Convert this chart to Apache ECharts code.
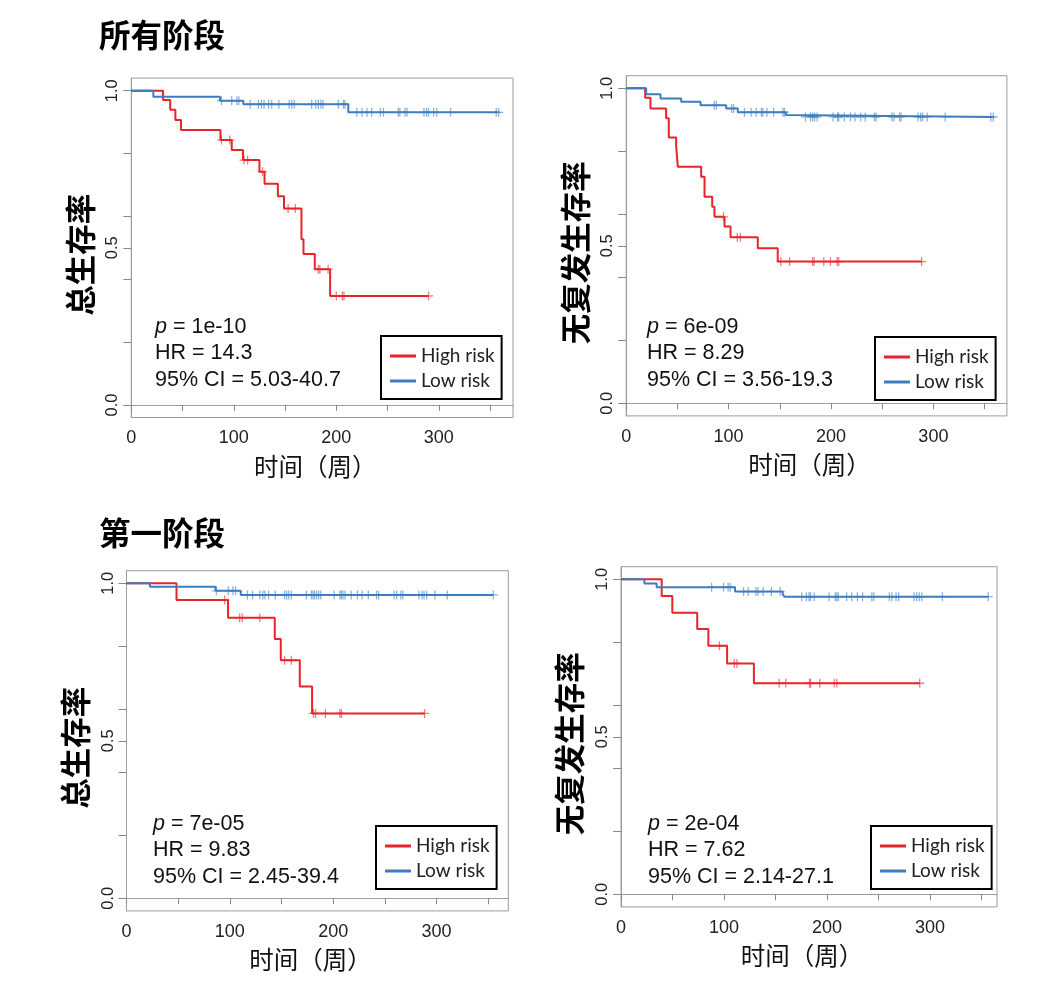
<!DOCTYPE html>
<html>
<head>
<meta charset="utf-8">
<script src="https://cdn.jsdelivr.net/npm/echarts@6/dist/echarts.min.js"></script>
<style>
html,body{margin:0;padding:0;background:#fff;}
#chart{width:1059px;height:999px;}
</style>
</head>
<body>
<div id="chart"></div>
<script>
// ---------- data ----------
const sectionTitles = ['所有阶段', '第一阶段'];
const yTitles = ['总生存率', '无复发生存率', '总生存率', '无复发生存率'];
const xTitle = '时间（周）';
const seriesNames = ['High risk', 'Low risk'];

const pValues = ['1e-10', '6e-09', '7e-05', '2e-04'];
const hrValues = ['14.3', '8.29', '9.83', '7.62'];
const ciValues = ['5.03-40.7', '3.56-19.3', '2.45-39.4', '2.14-27.1'];

const xTickValues = [0, 50, 100, 150, 200, 250, 300, 350];
const xLabelValues = [0, 100, 200, 300];
const yTickValues = [0, 0.2, 0.4, 0.5, 0.6, 0.8, 1.0];
const yLabelValues = [0, 0.5, 1.0];

// Panel 1: overall survival, all stages
const hi1Time = [31, 38, 43, 48.5, 87, 98, 109, 125, 130, 143, 149, 166, 168, 179, 194];
const hi1Surv = [0.970, 0.939, 0.907, 0.875, 0.843, 0.811, 0.779, 0.742, 0.704, 0.664, 0.625, 0.527, 0.480, 0.432, 0.347];
const hi1Cens = [88, 96, 110, 113.5, 128, 153, 160, 182.5, 184, 192, 200, 206, 207.5, 290];
const lo1Time = [21.5, 86.5, 109.3, 211.7];
const lo1Surv = [0.981, 0.968, 0.957, 0.931];
const lo1Cens = [88, 98, 103, 105, 116, 124, 127, 129.5, 134, 137, 144, 154, 156.5, 159, 176, 180, 182.5, 185, 187, 202, 207, 208.5, 220, 225, 230, 234.5, 243, 246, 260.5, 262, 267, 269, 285.5, 288, 290, 295, 298, 311.5, 356, 358.5];

// Panel 2: relapse-free survival, all stages
const hi2Time = [18.5, 23.7, 39, 41.6, 48.8, 50.4, 73.2, 76.5, 84, 86.2, 96, 101.9, 128.5, 148];
const hi2Surv = [0.970, 0.936, 0.905, 0.844, 0.815, 0.751, 0.719, 0.656, 0.624, 0.592, 0.561, 0.527, 0.492, 0.450];
const hi2Cens = [95, 108.5, 111.5, 151, 159.5, 182, 183.5, 193, 199.5, 206, 207.5, 288.5];
const lo2Time = [19.5, 33.5, 53.7, 72.6, 97.7, 109, 156, 157.5];
const lo2Surv = [0.981, 0.968, 0.957, 0.946, 0.936, 0.924, 0.915, 0.909];
const lo2Cens = [86, 88, 103, 105, 115.5, 122, 127, 132, 133.5, 137.5, 144, 153, 154.5, 175, 180, 182, 184, 186.5, 202, 206.5, 207.5, 213, 219, 223.5, 229, 233.5, 242.5, 244, 259.5, 261.5, 267, 268.5, 285, 287.5, 289.5, 294, 311.5, 356, 358.5];

// Panel 3: overall survival, stage I
const hi3Time = [48.4, 98.3, 143.5, 149.3, 167.7, 179.6];
const hi3Surv = [0.947, 0.891, 0.823, 0.756, 0.672, 0.587];
const hi3Cens = [95, 109.5, 112, 129, 153, 159.5, 181, 183, 192.5, 206.5, 208, 288.5];
const lo3Time = [22.6, 86.1, 110.6];
const lo3Surv = [0.989, 0.976, 0.963];
const lo3Cens = [87, 98.5, 103, 105.5, 117, 122, 129, 132, 134, 137.5, 144, 153, 155, 157, 159.5, 174, 179, 180.5, 182, 184, 186, 188, 201, 206.5, 208, 209.5, 211.5, 217.5, 223.5, 228, 234, 242, 244, 259, 261.5, 265.5, 267.5, 283, 286, 288, 290.5, 298.5, 310.5, 355];

// Panel 4: relapse-free survival, stage I
const hi4Time = [39.5, 49.8, 74, 84.8, 103, 129];
const hi4Surv = [0.947, 0.894, 0.842, 0.789, 0.733, 0.670];
const hi4Cens = [95.5, 110, 112.5, 153.5, 160, 183, 184, 193, 207, 209.5, 290];
const lo4Time = [22.7, 34.6, 110.7, 157, 158.6];
const lo4Surv = [0.987, 0.975, 0.961, 0.952, 0.945];
const lo4Cens = [88, 99.5, 104, 106, 119, 123.5, 131, 133, 138, 146, 154.5, 175.5, 180, 182.5, 184, 187.5, 202, 208, 209.5, 211, 219, 224, 229.5, 234.5, 243.5, 245.5, 260.5, 263, 267, 269.5, 284.5, 287, 289.5, 292, 312, 356.5];

// ---------- layout / style ----------
const RED = '#E8232A';
const BLUE = '#3B7DC0';
const panels = [
  {grid: {left: 131.3, top: 78.1, width: 381.7, height: 339.4}, xMax: 372.4,
   hi: [hi1Time, hi1Surv, hi1Cens], lo: [lo1Time, lo1Surv, lo1Cens],
   note: {left: 155, top: 313.5}, legend: {left: 381, top: 336}},
  {grid: {left: 626.2, top: 75.7, width: 380.7, height: 340.2}, xMax: 371.8,
   hi: [hi2Time, hi2Surv, hi2Cens], lo: [lo2Time, lo2Surv, lo2Cens],
   note: {left: 647, top: 313.5}, legend: {left: 875, top: 337}},
  {grid: {left: 126.5, top: 570.7, width: 381.8, height: 340.2}, xMax: 369.5,
   hi: [hi3Time, hi3Surv, hi3Cens], lo: [lo3Time, lo3Surv, lo3Cens],
   note: {left: 153, top: 810.5}, legend: {left: 376, top: 826}},
  {grid: {left: 621, top: 566.7, width: 376, height: 340.2}, xMax: 365,
   hi: [hi4Time, hi4Surv, hi4Cens], lo: [lo4Time, lo4Surv, lo4Cens],
   note: {left: 648, top: 810.5}, legend: {left: 871, top: 826}}
];

function survAt(times, surv, t) {
  let s = 1;
  for (let i = 0; i < times.length; i++) { if (times[i] <= t) s = surv[i]; }
  return s;
}
function stepData(times, surv, cens) {
  const end = Math.max(cens[cens.length - 1], times[times.length - 1]);
  const d = [[0, 1]];
  times.forEach((t, i) => d.push([t, surv[i]]));
  d.push([end, surv[surv.length - 1]]);
  return d;
}
function censData(times, surv, cens) {
  return cens.map(t => [t, survAt(times, surv, t)]);
}

const PLUS = 'path://M0,4.3H10V5.7H0Z M4.3,0H5.7V10H4.3Z';
const grids = [], xAxes = [], yAxes = [], series = [], legends = [], titles = [];

titles.push({left: 99, top: 19, padding: 0, text: sectionTitles[0],
  textStyle: {fontFamily: 'Noto Sans CJK SC', fontSize: 31.5, fontWeight: 'bold', color: '#000', lineHeight: 32}});
titles.push({left: 99, top: 517, padding: 0, text: sectionTitles[1],
  textStyle: {fontFamily: 'Noto Sans CJK SC', fontSize: 31.5, fontWeight: 'bold', color: '#000', lineHeight: 32}});

panels.forEach((p, i) => {
  grids.push(Object.assign({show: true, borderColor: '#9c9c9c', borderWidth: 1, backgroundColor: 'transparent'}, p.grid));
  xAxes.push({
    gridIndex: i, type: 'value', min: 0, max: p.xMax,
    axisLine: {show: true, lineStyle: {color: '#9c9c9c', width: 1}},
    splitLine: {show: false},
    axisTick: {show: true, length: 6, customValues: xTickValues, lineStyle: {color: '#888'}},
    axisLabel: {customValues: xLabelValues, fontFamily: 'Liberation Sans', fontSize: 18, color: '#222', margin: 12},
    name: xTitle, nameLocation: 'middle', nameGap: 37,
    nameTextStyle: {fontFamily: 'Noto Sans CJK SC', fontSize: 24.5, color: '#111', padding: [0, 14, 0, 0]}
  });
  yAxes.push({
    gridIndex: i, type: 'value', min: -0.04, max: 1.04,
    axisLine: {show: true, lineStyle: {color: '#9c9c9c', width: 1}},
    splitLine: {show: false},
    axisTick: {show: true, length: 8, customValues: yTickValues, lineStyle: {color: '#888'}},
    axisLabel: {customValues: yLabelValues, rotate: 90, formatter: v => Number(v).toFixed(1),
      fontFamily: 'Liberation Sans', fontSize: 16.5, color: '#222', margin: 10},
    name: yTitles[i], nameLocation: 'middle', nameRotate: 90, nameGap: 36,
    nameTextStyle: {fontFamily: 'Noto Sans CJK SC', fontSize: 30.5, fontWeight: 'bold', color: '#000', padding: [0, 14, 0, 0]}
  });
  const groups = [[p.hi, RED, seriesNames[0]], [p.lo, BLUE, seriesNames[1]]];
  groups.forEach(([g, color, name]) => {
    series.push({
      name: name, type: 'line', xAxisIndex: i, yAxisIndex: i, step: 'end',
      showSymbol: false, symbol: 'none', color: color,
      lineStyle: {color: color, width: 2}, data: stepData(g[0], g[1], g[2]),
      silent: true, animation: false
    });
  });
  groups.forEach(([g, color, name]) => {
    series.push({
      name: name + ' censored', type: 'scatter', xAxisIndex: i, yAxisIndex: i,
      symbol: PLUS, symbolSize: 9, itemStyle: {color: color, opacity: 0.6},
      data: censData(g[0], g[1], g[2]), silent: true, animation: false
    });
  });
  legends.push({
    left: p.legend.left, top: p.legend.top, orient: 'vertical',
    data: seriesNames, icon: 'rect', itemWidth: 26, itemHeight: 3, itemGap: 5, itemTextGap: 6,
    padding: [10, 7, 8, 9], borderColor: '#000', borderWidth: 2, borderRadius: 0,
    backgroundColor: '#fff', selectedMode: false,
    textStyle: {fontFamily: 'Lato', fontSize: 19, color: '#222', lineHeight: 20}
  });
  titles.push({
    left: p.note.left, top: p.note.top, padding: 0,
    text: '{i|p} = ' + pValues[i] + '\nHR = ' + hrValues[i] + '\n95% CI = ' + ciValues[i],
    textStyle: {fontFamily: 'Liberation Sans', fontSize: 21.5, fontWeight: 'normal', color: '#111', lineHeight: 26.5,
      rich: {i: {fontFamily: 'Liberation Sans', fontSize: 21.5, fontStyle: 'italic', color: '#111', lineHeight: 26.5}}}
  });
});

const chart = echarts.init(document.getElementById('chart'), null, {renderer: 'canvas'});
chart.setOption({
  backgroundColor: '#fff',
  animation: false,
  title: titles,
  grid: grids,
  xAxis: xAxes,
  yAxis: yAxes,
  legend: legends,
  series: series
});
</script>
</body>
</html>
